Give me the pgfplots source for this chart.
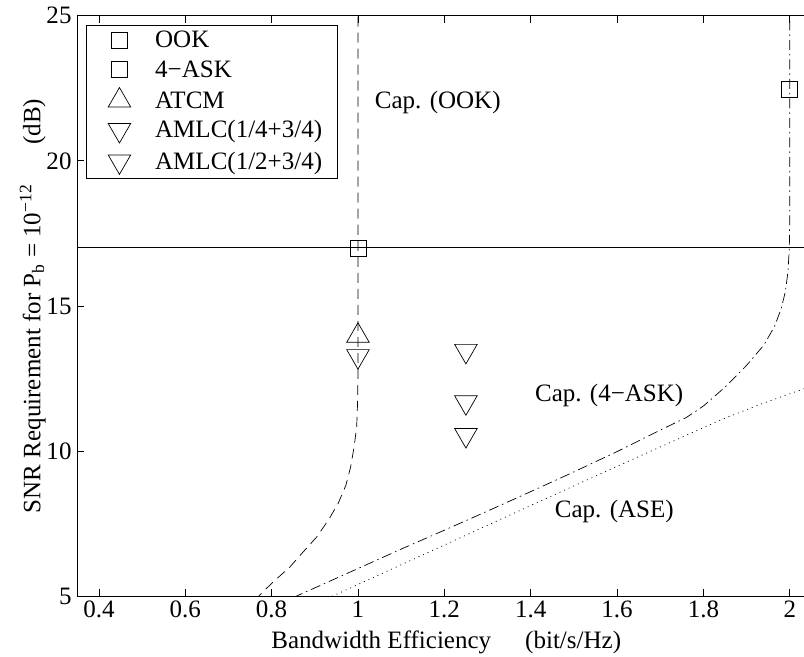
\documentclass[border=0pt]{standalone}
\usepackage{pgfplots}
\pgfplotsset{compat=1.18}
\usepackage{fontspec}
\setmainfont{Liberation Serif}
\begin{document}
\begin{tikzpicture}[font=\fontsize{25bp}{30bp}\selectfont]
\begin{axis}[
  scale only axis, width=726.2bp, height=580bp,
  xmin=0.35, xmax=2.033, ymin=5, ymax=25,
  axis x line*=box, axis y line*=left,
  axis line style={line width=0.9bp},
  tick style={line width=0.8bp, black},
  tick align=inside, major tick length=7bp,
  xtick={0.4,0.6,0.8,1,1.2,1.4,1.6,1.8,2},
  ytick={5,10,15,20,25},
  /pgf/number format/assume math mode=true,
  xticklabel style={inner sep=0pt, yshift=-4.3bp},
  yticklabel style={inner sep=0pt, xshift=-5.6bp},
  xlabel={Bandwidth Efficiency\hspace{34bp}(bit/s/Hz)},
  ylabel={SNR Requirement for P\textsubscript{b} = 10\textsuperscript{−12}\hspace{40bp}(dB)},
  xlabel style={at={(axis description cs:0.5077,-0.0907)}, anchor=base},
  ylabel style={at={(axis description cs:-0.0507,0.5)}, anchor=base},
  legend style={at={(rel axis cs:0.012,0.984)}, anchor=north west, draw=black, line width=0.8bp,
    fill=white, inner xsep=13bp, inner ysep=4bp, row sep=7bp, column sep=13.7bp},
  legend cell align=left,
  legend image code/.code={\draw[#1, /tikz/only marks] plot coordinates {(20bp,0bp)}; \draw[draw=none] (0bp,0bp) -- (40bp,0bp);},
]
% markers (legend)
\addplot[only marks, mark=square, mark size=8bp, line width=0.7bp, black] coordinates {(1,17)};
\addlegendentry{OOK}
\addplot[only marks, mark=square, mark size=8bp, line width=0.7bp, black] coordinates {(2,22.45)};
\addlegendentry{4−ASK}
\addplot[only marks, mark=triangle, mark size=13bp, line width=0.7bp, black] coordinates {(1,13.97)};
\addlegendentry{ATCM}
\addplot[only marks, mark=triangle, mark size=13bp, mark options={rotate=180}, line width=0.7bp, black] coordinates {(1,13.27)(1.25,13.45)};
\addlegendentry{AMLC(1/4+3/4)}
\addplot[only marks, mark=triangle, mark size=13bp, mark options={rotate=180}, line width=0.7bp, black] coordinates {(1.25,11.68)(1.25,10.55)};
\addlegendentry{AMLC(1/2+3/4)}
% curves
\addplot[forget plot, black, line width=0.8bp] coordinates {(0.35,17)(2.033,17)};
\addplot[forget plot, black, line width=0.7bp, dash pattern=on 10bp off 6bp] coordinates {
(0.76,4.85)(0.77,5.0)(0.803,5.48)(0.842,6.0)(0.873,6.52)(0.904,7.03)(0.931,7.61)(0.954,8.19)(0.972,8.82)(0.983,9.45)(0.991,10.14)(0.997,10.83)(0.999,11.63)(1.0,12.5)(1.0,25)};
\addplot[forget plot, black, line width=0.7bp, dash pattern=on 10bp off 4bp on 1.5bp off 4bp] coordinates {
(0.85,4.95)(0.865,5.05)(1.0,5.95)(1.1,6.62)(1.2,7.27)(1.3,7.93)(1.4,8.6)(1.5,9.28)(1.6,9.98)(1.7,10.72)(1.76,11.15)(1.8,11.55)(1.85,12.2)(1.9,12.95)(1.94,13.65)(1.965,14.3)(1.98,14.9)(1.99,15.5)(1.996,16.2)(1.999,17)(2.0,18)(2.0,25)};
\addplot[forget plot, black, line width=0.7bp, dash pattern=on 1bp off 4bp] coordinates {
(0.93,4.9)(0.941,5.0)(1.0,5.4)(1.1,6.08)(1.2,6.76)(1.3,7.44)(1.4,8.12)(1.53,9.0)(1.6,9.47)(1.7,10.14)(1.838,11.06)(1.93,11.6)(2.024,12.1)(2.04,12.18)};
\node[anchor=west] at (axis cs:1.031,22.0) {Cap. (OOK)};
\node[anchor=west] at (axis cs:1.402,11.92) {Cap. (4−ASK)};
\node[anchor=west] at (axis cs:1.448,7.9) {Cap. (ASE)};
\coordinate (bl) at (rel axis cs:-0.1064,-0.104);
\coordinate (tr) at (rel axis cs:1.0,1.0271);
\end{axis}
\pgfresetboundingbox
\path[use as bounding box] (bl) rectangle (tr);
\end{tikzpicture}
\end{document}
